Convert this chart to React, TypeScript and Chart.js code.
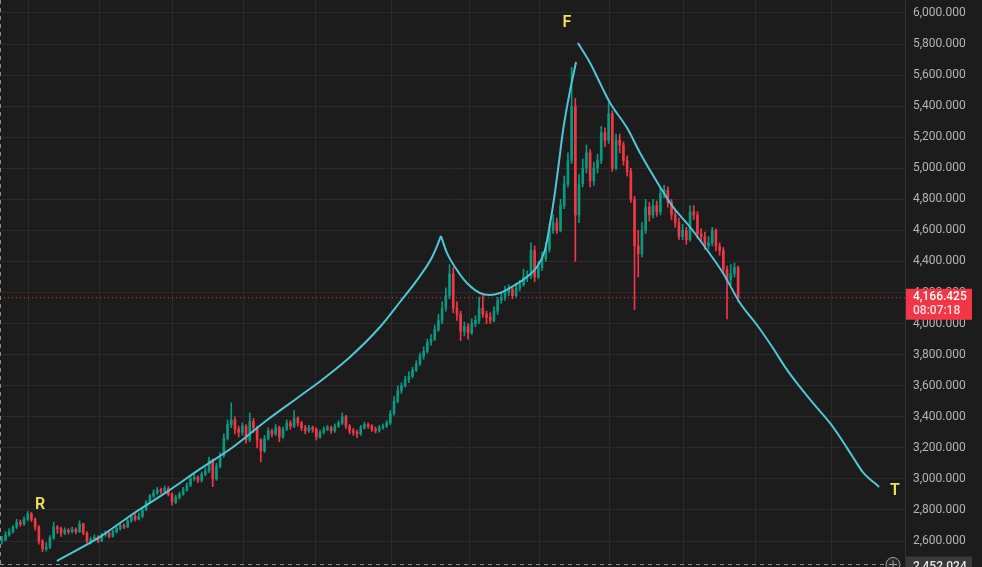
import React, { useEffect, useRef } from "react";
import { Chart, registerables } from "chart.js";

Chart.register(...registerables);

// daily candles (open = previous close)
const firstOpen = 2600;
const closes = [
  2610, 2640, 2660, 2690, 2720, 2710, 2740, 2775, 2740, 2690,
  2600, 2550, 2560, 2620, 2690, 2680, 2650, 2670, 2660, 2675,
  2660, 2710, 2650, 2600, 2610, 2625, 2600, 2640, 2650, 2630,
  2660, 2680, 2700, 2690, 2730, 2760, 2740, 2760, 2800, 2850,
  2890, 2910, 2930, 2920, 2940, 2900, 2850, 2880, 2900, 2930,
  2960, 3000, 3010, 2990, 3030, 3050, 3120, 3000, 3080, 3150,
  3260, 3350, 3380, 3320, 3300, 3340, 3250, 3370, 3330, 3250,
  3180, 3260, 3310, 3290, 3330, 3270, 3320, 3360, 3340, 3390,
  3360, 3330, 3310, 3330, 3320, 3270, 3300, 3320, 3330, 3310,
  3340, 3360, 3400, 3340, 3310, 3300, 3290, 3330, 3350, 3340,
  3320, 3310, 3330, 3340, 3360, 3420, 3500, 3570, 3600, 3640,
  3660, 3700, 3740, 3790, 3820, 3880, 3900, 3960, 4020, 4100,
  4180, 4320, 4100, 4060, 3950, 3980, 3940, 4000, 4020, 4100,
  4060, 4040, 4020, 4080, 4150, 4170, 4200, 4220, 4180, 4230,
  4250, 4300, 4310, 4470, 4300, 4360, 4420, 4480, 4600, 4650,
  4600, 4760, 4900, 5050, 5400, 4700, 4900, 5000, 5100, 4920,
  5000, 5050, 5230, 5180, 5350, 5000, 5180, 5150, 5050, 4980,
  4800, 4500, 4450, 4600, 4750, 4700, 4760, 4720, 4840, 4860,
  4780, 4700, 4650, 4560, 4600, 4540, 4720, 4700, 4580, 4560,
  4500, 4520, 4600, 4500, 4470, 4350, 4280, 4320, 4360, 4166.425,
];
const highs = [
  2630, 2660, 2680, 2700, 2740, 2735, 2755, 2790, 2785, 2750,
  2700, 2610, 2590, 2635, 2720, 2700, 2690, 2685, 2680, 2690,
  2685, 2730, 2715, 2660, 2625, 2640, 2635, 2650, 2665, 2660,
  2670, 2690, 2715, 2710, 2740, 2770, 2775, 2780, 2815, 2860,
  2900, 2930, 2945, 2940, 2955, 2950, 2910, 2895, 2915, 2945,
  2975, 3015, 3030, 3020, 3045, 3070, 3140, 3130, 3100, 3170,
  3290, 3380, 3490, 3400, 3340, 3360, 3350, 3425, 3390, 3340,
  3260, 3280, 3330, 3320, 3350, 3340, 3335, 3380, 3375, 3440,
  3400, 3370, 3345, 3345, 3340, 3330, 3315, 3335, 3345, 3340,
  3355, 3375, 3425, 3410, 3350, 3325, 3315, 3345, 3365, 3360,
  3350, 3335, 3345, 3355, 3375, 3440, 3530, 3600, 3620, 3660,
  3690, 3720, 3760, 3810, 3850, 3900, 3930, 3990, 4060, 4140,
  4230, 4380, 4360, 4140, 4080, 4010, 4000, 4030, 4050, 4170,
  4180, 4080, 4070, 4110, 4170, 4200, 4240, 4250, 4240, 4260,
  4280, 4350, 4340, 4520, 4500, 4400, 4460, 4520, 4640, 4700,
  4680, 4800, 4950, 5100, 5650, 5450, 4960, 5060, 5150, 5120,
  5040, 5090, 5270, 5260, 5420, 5370, 5220, 5220, 5170, 5080,
  5000, 4820, 4600, 4650, 4800, 4780, 4800, 4790, 4870, 4890,
  4880, 4800, 4730, 4680, 4640, 4620, 4760, 4760, 4720, 4610,
  4590, 4560, 4620, 4610, 4520, 4490, 4370, 4380, 4390, 4370,
];
const lows = [
  2580, 2600, 2630, 2650, 2680, 2695, 2700, 2730, 2725, 2670,
  2580, 2530, 2535, 2550, 2610, 2650, 2630, 2640, 2645, 2650,
  2645, 2655, 2640, 2590, 2580, 2600, 2590, 2595, 2630, 2620,
  2625, 2650, 2670, 2680, 2685, 2720, 2730, 2735, 2750, 2795,
  2840, 2880, 2900, 2905, 2910, 2890, 2830, 2840, 2870, 2895,
  2920, 2950, 2990, 2975, 2980, 3020, 3040, 2950, 2990, 3070,
  3140, 3250, 3330, 3290, 3270, 3280, 3230, 3240, 3300, 3200,
  3110, 3170, 3250, 3270, 3280, 3240, 3260, 3310, 3320, 3330,
  3340, 3310, 3290, 3300, 3300, 3250, 3260, 3290, 3310, 3295,
  3300, 3330, 3350, 3325, 3290, 3280, 3265, 3280, 3320, 3325,
  3305, 3295, 3300, 3320, 3330, 3350, 3410, 3490, 3550, 3590,
  3620, 3650, 3690, 3730, 3770, 3810, 3860, 3890, 3950, 4000,
  4080, 4160, 4070, 4020, 3890, 3920, 3900, 3930, 3980, 4000,
  4040, 4000, 4000, 4010, 4060, 4130, 4150, 4180, 4160, 4170,
  4210, 4240, 4270, 4290, 4270, 4290, 4340, 4400, 4460, 4580,
  4580, 4590, 4740, 4880, 5030, 4400, 4650, 4880, 4970, 4880,
  4890, 4970, 5030, 5140, 5160, 4980, 4990, 5100, 5020, 4950,
  4780, 4090, 4300, 4430, 4580, 4660, 4680, 4690, 4700, 4810,
  4750, 4670, 4620, 4540, 4540, 4510, 4530, 4670, 4550, 4530,
  4480, 4480, 4500, 4470, 4440, 4320, 4030, 4250, 4300, 4140,
];

// hand-drawn cyan curve, [candle index, price]
const riseCurve: [number, number][] = [
  [14.9, 2471], [26.5, 2626], [35.4, 2774], [44.6, 2916], [53.6, 3064],
  [62.5, 3205], [71.7, 3379], [80.6, 3534], [86.5, 3637], [94.1, 3785],
  [102.2, 3978], [107.6, 4139], [113.0, 4306], [116.3, 4429], [118.7, 4564],
];
const dipCurve: [number, number][] = [
  [118.7, 4564], [120.3, 4455], [123.0, 4345], [125.7, 4261], [129.2, 4197],
  [131.9, 4184], [134.6, 4197], [138.2, 4242], [141.9, 4300], [144.6, 4364],
  [146.8, 4474], [148.1, 4635], [149.2, 4796], [150.3, 4989], [151.7, 5247],
  [153.6, 5504], [155.2, 5684],
];
const fallCurve: [number, number][] = [
  [155.7, 5807], [159.0, 5678], [162.2, 5523], [164.4, 5420], [169.0, 5259],
  [172.5, 5098], [177.9, 4880], [181.4, 4751], [186.0, 4622], [190.6, 4474],
  [194.9, 4326], [199.5, 4133], [204.1, 3991], [208.4, 3843], [211.7, 3720],
  [215.7, 3592], [219.2, 3489], [223.8, 3360], [226.5, 3270], [230.0, 3141],
  [232.7, 3044], [237.1, 2948],
];

const markLabels = ["R", "F", "T"];
const markX = [10.3, 152.7, 241.4];
const markY = [2832, 5936, 2922];

const yTicks = [2600, 2800, 3000, 3200, 3400, 3600, 3800, 4000, 4200, 4400, 4600, 4800, 5000, 5200, 5400, 5600, 5800, 6000];
const dateGrid = [7.3, 26.5, 46, 65.4, 84.9, 105.2, 126.3, 145.4, 164.1, 184.1, 203.6, 224.1];

const lastPrice = 4166.425;
const countdown = "08:07:18";
const crosshairPrice = 2452.024;

const UP = "#089981";
const DOWN = "#f23645";
const fmt = (v: number) => v.toLocaleString("en-US", { minimumFractionDigits: 3, maximumFractionDigits: 3 });

const overlay = {
  id: "overlay",
  afterDraw(chart: any) {
    const { ctx, chartArea, scales } = chart;
    const x = scales.x;
    const y = scales.y;
    ctx.save();

    // crosshair
    ctx.strokeStyle = "#8a8a8a";
    ctx.lineWidth = 1;
    ctx.setLineDash([4, 4]);
    const cy = Math.round(y.getPixelForValue(crosshairPrice)) + 0.5;
    ctx.beginPath();
    ctx.moveTo(chartArea.left, cy);
    ctx.lineTo(chartArea.right - 20, cy);
    ctx.moveTo(chartArea.left + 0.5, chartArea.top);
    ctx.lineTo(chartArea.left + 0.5, chartArea.bottom);
    ctx.stroke();
    ctx.setLineDash([]);

    // pattern letters
    ctx.fillStyle = "#f2df5b";
    ctx.font = "600 16px Roboto";
    ctx.textAlign = "center";
    ctx.textBaseline = "middle";
    markLabels.forEach((t, i) => {
      ctx.fillText(t, x.getPixelForValue(markX[i]), y.getPixelForValue(markY[i]));
    });

    // last price badge
    const py = y.getPixelForValue(lastPrice);
    const bx = chartArea.right + 1;
    ctx.fillStyle = DOWN;
    ctx.fillRect(bx, py - 9, 66, 31);
    ctx.textAlign = "left";
    ctx.fillStyle = "#ffffff";
    ctx.font = "500 12px Roboto";
    ctx.fillText(fmt(lastPrice), bx + 7, py - 1);
    ctx.fillStyle = "#ffe0e3";
    ctx.fillText(countdown, bx + 7, py + 13);

    // crosshair price badge
    ctx.fillStyle = "#3a3a3a";
    ctx.fillRect(bx, cy - 8, 66, 20);
    ctx.fillStyle = "#e8e8e8";
    ctx.fillText(fmt(crosshairPrice), bx + 7, cy + 2);

    // add button
    ctx.fillStyle = "#2a2a2a";
    ctx.strokeStyle = "#a0a0a0";
    ctx.beginPath();
    ctx.arc(chartArea.right - 12, cy, 7, 0, Math.PI * 2);
    ctx.fill();
    ctx.stroke();
    ctx.beginPath();
    ctx.moveTo(chartArea.right - 16, cy);
    ctx.lineTo(chartArea.right - 8, cy);
    ctx.moveTo(chartArea.right - 12, cy - 4);
    ctx.lineTo(chartArea.right - 12, cy + 4);
    ctx.stroke();
    ctx.restore();
  },
};

const App: React.FC = () => {
  const canvasRef = useRef<HTMLCanvasElement>(null);
  const chartRef = useRef<Chart | null>(null);

  useEffect(() => {
    if (!canvasRef.current) return;
    if (chartRef.current) chartRef.current.destroy();

    const opens = closes.map((_, i) => (i === 0 ? firstOpen : closes[i - 1]));
    const colors = closes.map((c, i) => (c >= opens[i] ? UP : DOWN));
    const bodies = closes.map((c, i) => ({ x: i, y: [Math.min(opens[i], c), Math.max(opens[i], c)] }));
    const wicks = closes.map((_, i) => ({ x: i, y: [lows[i], highs[i]] }));
    const toPts = (arr: [number, number][]) => arr.map(([x, y]) => ({ x, y }));
    const curve = {
      type: "line" as const,
      borderColor: "#4fc6d8",
      borderWidth: 2,
      pointRadius: 0,
      cubicInterpolationMode: "monotone" as const,
      order: 1,
    };

    chartRef.current = new Chart(canvasRef.current, {
      type: "bar",
      data: {
        datasets: [
          { data: wicks as any, backgroundColor: colors, barThickness: 1, grouped: false, order: 4 },
          { data: bodies as any, backgroundColor: colors, barThickness: 2, grouped: false, order: 3 },
          {
            type: "line",
            data: [{ x: -0.5, y: lastPrice }, { x: 244.1, y: lastPrice }],
            borderColor: DOWN,
            borderWidth: 1,
            borderDash: [1, 3],
            pointRadius: 0,
            order: 2,
          } as any,
          { ...curve, data: toPts(riseCurve) } as any,
          { ...curve, data: toPts(dipCurve) } as any,
          { ...curve, data: toPts(fallCurve) } as any,
        ],
      },
      options: {
        animation: false,
        responsive: true,
        maintainAspectRatio: false,
        events: [],
        layout: { padding: 0 },
        plugins: { legend: { display: false }, tooltip: { enabled: false } },
        scales: {
          x: {
            type: "linear",
            min: -0.5,
            max: 244.1,
            offset: false,
            ticks: { display: false },
            grid: { color: "#2a2a2a", drawTicks: false, offset: false },
            border: { display: false },
            afterBuildTicks: (s: any) => {
              s.ticks = dateGrid.map((v) => ({ value: v }));
            },
            afterFit: (s: any) => {
              s.height = 0;
              s.paddingLeft = 0;
              s.paddingRight = 0;
            },
          },
          y: {
            position: "right",
            min: 2432.6,
            max: 6083.7,
            ticks: {
              color: "#b4b4b4",
              padding: 8,
              font: { family: "Roboto", size: 12 },
              callback: (v: any) => fmt(Number(v)),
            },
            grid: { color: "#2a2a2a", drawTicks: false },
            border: { color: "#333333" },
            afterBuildTicks: (s: any) => {
              s.ticks = yTicks.map((v) => ({ value: v }));
            },
            afterFit: (s: any) => {
              s.width = 77;
              s.paddingTop = 0;
              s.paddingBottom = 0;
            },
          },
        },
      },
      plugins: [overlay],
    });

    return () => {
      if (chartRef.current) {
        chartRef.current.destroy();
        chartRef.current = null;
      }
    };
  }, []);

  return (
    <div style={{ position: "fixed", left: 0, top: 0, width: 982, height: 567, background: "#1c1c1c" }}>
      <canvas ref={canvasRef} />
    </div>
  );
};

export default App;
